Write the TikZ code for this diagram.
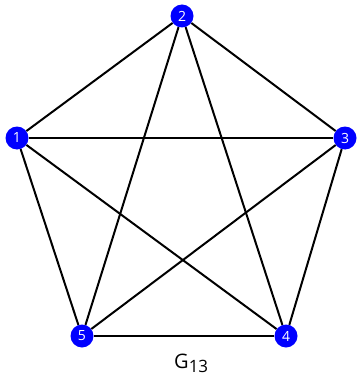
\documentclass[tikz,border=0pt]{standalone}
\usepackage{fontspec}
\setmainfont{Open Sans}
\usepackage{tikz}
\usetikzlibrary{positioning, calc}
\definecolor{VertexBlue}{HTML}{0000FF}

\begin{document}
\begin{tikzpicture}[x=1pt, y=-1pt, every node/.style={transform shape}]
    \tikzstyle{vertex} = [circle, fill=VertexBlue, text=white, inner sep=0pt, minimum size=23pt, font=\fontsize{14}{14}\selectfont]
    \tikzstyle{edge} = [draw, line width=2pt, black]
    \useasboundingbox (0,0) rectangle (357,377);

    \node [vertex] (v1) at (17,138) {1};
    \node [vertex] (v2) at (182,16) {2};
    \node [vertex] (v3) at (345,138) {3};
    \node [vertex] (v4) at (286,336) {4};
    \node [vertex] (v5) at (82,336) {5};

    \foreach \a/\b in {1/2,1/3,1/4,1/5,2/3,2/4,2/5,3/4,3/5,4/5}
        \path [edge] (v\a) -- (v\b);

    \node [anchor=base west, inner sep=0pt, font=\fontsize{20}{20}\selectfont] (name) at (174,368) {G\raisebox{-4.5pt}{\fontsize{17}{17}\selectfont 13}};
\end{tikzpicture}
\end{document}
